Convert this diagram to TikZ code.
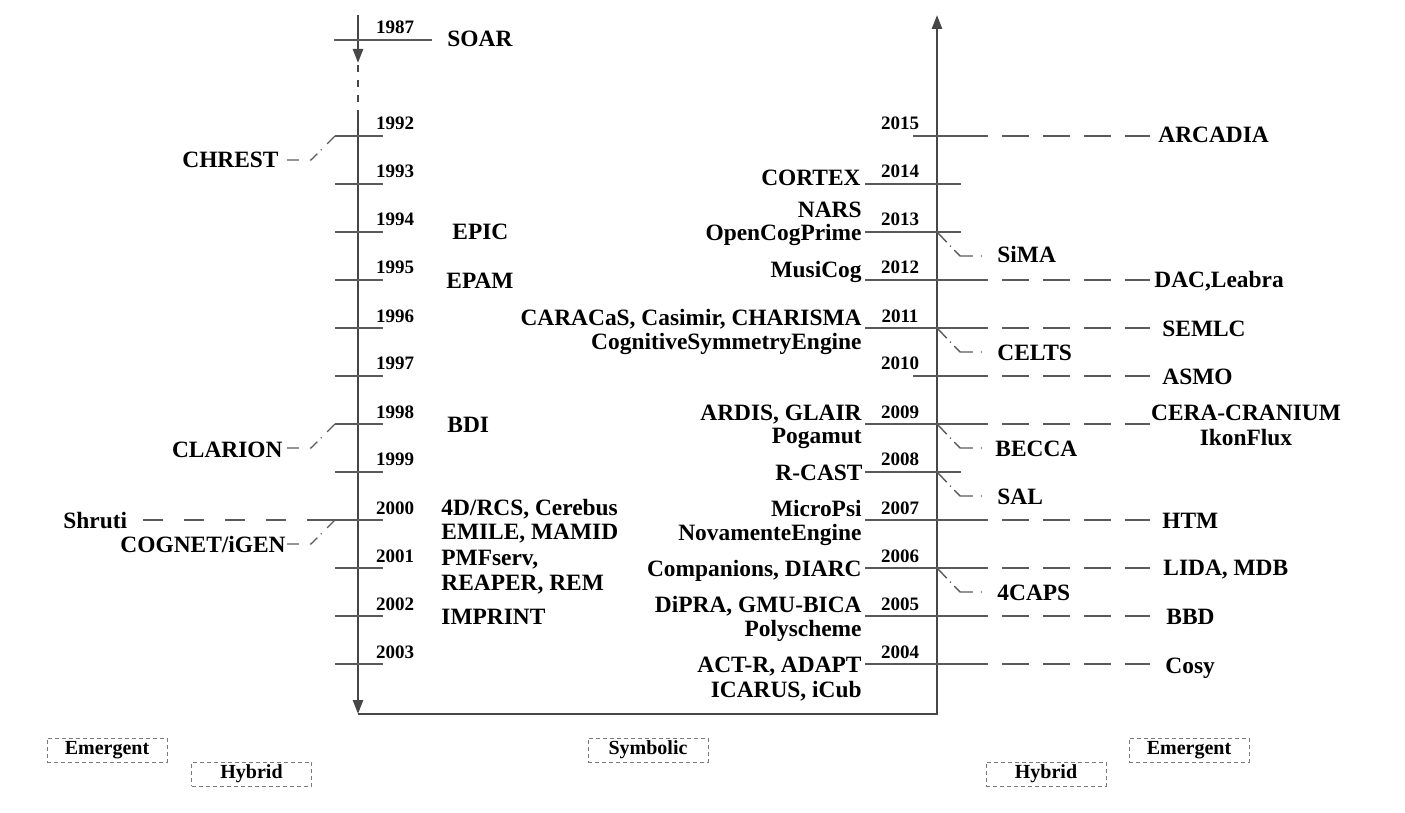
\documentclass[tikz,border=0pt]{standalone}
\usepackage{fontspec}
\setmainfont{Liberation Serif}
\usetikzlibrary{arrows.meta}
\definecolor{axcol}{HTML}{474747}
\definecolor{tkcol}{HTML}{5A5A5A}
\definecolor{lgcol}{HTML}{7A7A7A}
\begin{document}
\begin{tikzpicture}[x=0.5pt,y=-0.5pt,
  txt/.style={font=\fontsize{11.7}{12}\selectfont\bfseries, inner sep=0pt},
  yr/.style={font=\fontsize{9.5}{10}\selectfont\bfseries, inner sep=0pt, anchor=base},
  axis/.style={draw=axcol, line width=1.3pt},
  tip/.style={-{Triangle[length=7pt,width=5pt]}},
  tickl/.style={draw=tkcol, line width=0.9pt},
  ext/.style={draw=tkcol, line width=0.9pt, dash pattern=on 13.5pt off 7pt},
  shr/.style={draw=tkcol, line width=0.9pt, dash pattern=on 14pt off 10.5pt on 10pt off 10.5pt on 10pt off 10.5pt on 10pt off 10.5pt on 10pt off 20pt},
  ddl/.style={draw=tkcol, line width=0.7pt, dash pattern=on 5.5pt off 4pt on 0.5pt off 2.5pt on 5pt off 5.5pt on 7pt off 20pt},
  ddr/.style={draw=tkcol, line width=0.7pt, dash pattern=on 7pt off 2.5pt on 0.5pt off 2.5pt on 10.5pt off 4pt on 0.5pt off 20pt},
  legend/.style={draw=lgcol, line width=0.5pt, dash pattern=on 2pt off 1.5pt, minimum width=60pt, minimum height=12pt, inner sep=0pt, font=\fontsize{10}{10}\selectfont\bfseries}
]
\useasboundingbox (0,0) rectangle (1405,813);

% ---------- axes ----------
\coordinate (A0) at (358,15);
\coordinate (A1) at (358,63);
\coordinate (A2) at (358,110);
\coordinate (A3) at (358,714);
\coordinate (A4) at (937,714);
\coordinate (A5) at (937,15);
\draw[axis,tip] (A0) -- (A1);
\draw[axis, dash pattern=on 3.5pt off 4pt] ([yshift=-1pt]A1) -- (A2);
\draw[axis,tip] (A2) -- (A3);
\draw[axis,tip] (A3) -- (A4) -- (A5);

% ---------- left ticks ----------
\coordinate (la1987) at (334,40);
\coordinate (lb1987) at (432,40);
\draw[tickl] (la1987) -- (lb1987);
\node[yr] (ly1987) at (395,34) {1987};
\foreach \yr/\yy in {1992/136,1993/184,1994/232,1995/280,1996/328,1997/376,1998/424,1999/472,2000/520,2001/568,2002/616,2003/664}{
  \coordinate (la\yr) at (335,\yy);
  \coordinate (lb\yr) at (383,\yy);
  \draw[tickl] (la\yr) -- (lb\yr);
  \node[yr] (ly\yr) at (395,\yy-6) {\yr};
}

% ---------- right ticks ----------
\foreach \yr/\yy/\xs in {2004/664/865,2005/616/865,2006/568/865,2007/520/865,2008/472/865,2009/424/865,2010/376/913,2011/328/865,2012/280/865,2013/232/865,2014/184/865,2015/136/913}{
  \coordinate (ra\yr) at (\xs,\yy);
  \coordinate (rb\yr) at (961,\yy);
  \coordinate (rx\yr) at (937,\yy);
  \draw[tickl] (ra\yr) -- (rb\yr);
  \node[yr] (ry\yr) at (900,\yy-6) {\yr};
}
% dashed extensions
\foreach \yr/\yy in {2015/136,2012/280,2011/328,2010/376,2009/424,2007/520,2006/568,2005/616,2004/664}{
  \coordinate (re\yr) at (1150,\yy);
  \draw[ext] (rb\yr) -- (re\yr);
}
% dash-dot connectors right
\foreach \yr/\yy in {2013/232,2011/328,2009/424,2008/472,2006/568}{
  \coordinate (rk\yr) at (960,\yy+24);
  \coordinate (rm\yr) at (983,\yy+24);
  \draw[ddr] (rx\yr) -- (rk\yr) -- (rm\yr);
}
% dash-dot connectors left
\foreach \yr/\yy in {1992/136,1998/424,2000/520}{
  \coordinate (lk\yr) at (311,\yy+24);
  \coordinate (lm\yr) at (287,\yy+24);
  \draw[ddl] (la\yr) -- (lk\yr) -- (lm\yr);
}
% Shruti line
\coordinate (shE) at (142,520);
\draw[shr] (la2000) -- (shE);

% ---------- left labels ----------
\node[txt,anchor=base west] (soar) at (447,47) {SOAR};
\node[txt,anchor=base west] (epic) at (452,240) {EPIC};
\node[txt,anchor=base west] (epam) at (446,288) {EPAM};
\node[txt,anchor=base west] (bdi) at (447,432) {BDI};
\node[txt,anchor=base west] (rcs) at (441,515) {4D/RCS, Cerebus};
\node[txt,anchor=base west] (emile) at (441,539) {EMILE, MAMID};
\node[txt,anchor=base west] (pmf) at (441,565) {PMFserv,};
\node[txt,anchor=base west] (reaper) at (441,590) {REAPER, REM};
\node[txt,anchor=base west] (imprint) at (441,624) {IMPRINT};
\node[txt,anchor=base east] (chrest) at (279,168) {CHREST};
\node[txt,anchor=base east] (clarion) at (283,457) {CLARION};
\node[txt,anchor=base east] (cognet) at (286,552) {COGNET/iGEN};
\node[txt,anchor=base west] (shruti) at (63,528) {Shruti};

% ---------- right-inner labels ----------
\node[txt,anchor=base east] (cortex) at (861,186) {CORTEX};
\node[txt,anchor=base east] (nars) at (862,218) {NARS};
\node[txt,anchor=base east] (ocp) at (862,241) {OpenCogPrime};
\node[txt,anchor=base east] (musicog) at (862,278) {MusiCog};
\node[txt,anchor=base east] (caracas) at (862,326) {CARACaS, Casimir, CHARISMA};
\node[txt,anchor=base east] (cse) at (862,350) {CognitiveSymmetryEngine};
\node[txt,anchor=base east] (ardis) at (862,420) {ARDIS, GLAIR};
\node[txt,anchor=base east] (pogamut) at (862,444) {Pogamut};
\node[txt,anchor=base east] (rcast) at (863,480) {R-CAST};
\node[txt,anchor=base east] (micropsi) at (862,516) {MicroPsi};
\node[txt,anchor=base east] (novamente) at (862,540) {NovamenteEngine};
\node[txt,anchor=base east] (companions) at (862,576) {Companions, DIARC};
\node[txt,anchor=base east] (dipra) at (862,612) {DiPRA, GMU-BICA};
\node[txt,anchor=base east] (polyscheme) at (862,636) {Polyscheme};
\node[txt,anchor=base east] (actr) at (862,672) {ACT-R, ADAPT};
\node[txt,anchor=base east] (icarus) at (862,697) {ICARUS, iCub};

% ---------- right-outer labels ----------
\node[txt,anchor=base west] (arcadia) at (1158,143) {ARCADIA};
\node[txt,anchor=base west] (sima) at (997,263) {SiMA};
\node[txt,anchor=base west] (dac) at (1154,287) {DAC,Leabra};
\node[txt,anchor=base west] (semlc) at (1162,336) {SEMLC};
\node[txt,anchor=base west] (celts) at (997,360) {CELTS};
\node[txt,anchor=base west] (asmo) at (1162,384) {ASMO};
\node[txt,anchor=base] (cera) at (1246,420) {CERA-CRANIUM};
\node[txt,anchor=base] (ikon) at (1246,445) {IkonFlux};
\node[txt,anchor=base west] (becca) at (995,456) {BECCA};
\node[txt,anchor=base west] (sal) at (997,504) {SAL};
\node[txt,anchor=base west] (htm) at (1162,528) {HTM};
\node[txt,anchor=base west] (lida) at (1163,575) {LIDA, MDB};
\node[txt,anchor=base west] (fourcaps) at (997,600) {4CAPS};
\node[txt,anchor=base west] (bbd) at (1166,624) {BBD};
\node[txt,anchor=base west] (cosy) at (1165,673) {Cosy};

% ---------- legend ----------
\node[legend] (lgEmL) at (107,750) {Emergent};
\node[legend] (lgHyL) at (251.5,774) {Hybrid};
\node[legend] (lgSym) at (648,750) {Symbolic};
\node[legend] (lgHyR) at (1046,774) {Hybrid};
\node[legend] (lgEmR) at (1189,750) {Emergent};
\end{tikzpicture}
\end{document}
